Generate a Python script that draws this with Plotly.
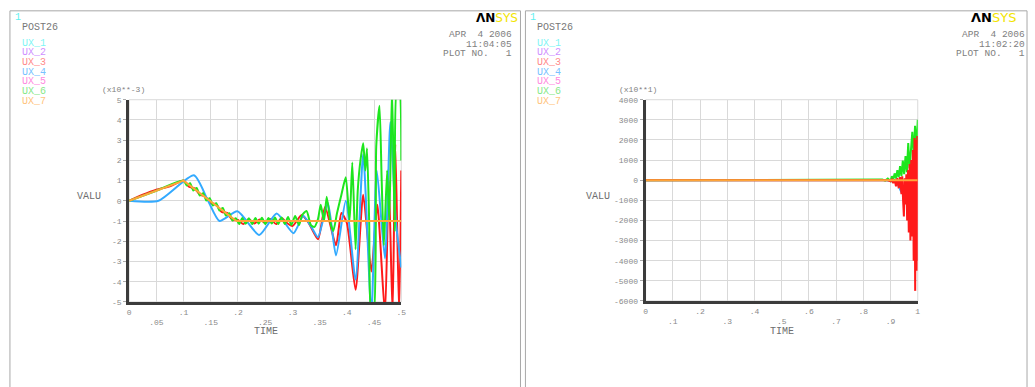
import plotly.graph_objects as go

W, H = 1035, 387

# ---------------- data ----------------
series_names = ["UX_1", "UX_2", "UX_3", "UX_4", "UX_5", "UX_6", "UX_7"]
label_colors = ["#7ff5f5", "#cf90ff", "#ff8a8a", "#77c2ff", "#ff8ae0", "#88e888", "#ffc47c"]

# Left chart: TIME 0..0.5, VALU in units of 1e-3
left_x_ticks = [0, .05, .1, .15, .2, .25, .3, .35, .4, .45, .5]
left_x_labels = ["0", ".05", ".1", ".15", ".2", ".25", ".3", ".35", ".4", ".45", ".5"]
left_y_ticks = [5, 4, 3, 2, 1, 0, -1, -2, -3, -4, -5]
left_y_labels = ["5", "4", "3", "2", "1", "0", "-1", "-2", "-3", "-4", "-5"]

l_ux3_t = [0, .025, .05, .075, .1, .11, .12, .13, .14, .15, .16, .17, .18, .19, .2, .21, .22,
           .23, .24, .25, .26, .27, .28, .29, .3, .317, .33, .347, .36, .38, .39, .4, .416,
           .43, .445, .456, .47, .477, .484, .489, .496, .5]
l_ux3_v = [0, .3, .55, .72, 1.0, .7, .62, .3, .22, -.12, -.18, -.55, -.6, -.95, -.95, -1.15, -.9,
           -1.12, -.92, -1.1, -.9, -1.15, -.85, -1.1, -1.25, -.7, -1.1, -1.9, -.3, -2.2, -.6, -1.1, -4.4,
           .3, -3.5, -.2, -5.6, 1.0, -5.6, 2.8, -5.6, 1.5]

l_ux4_t = [0, .054, .119, .145, .166, .199, .239, .271, .302, .32, .335, .347, .365, .38, .398,
           .416, .43, .445, .455, .47, .48, .49, .5]
l_ux4_v = [0, 0, 1.26, 0, -1.0, -.52, -1.69, -.63, -1.6, -.75, -1.3, -1.8, -.1, -2.7, 0.0,
           -3.9, 2.3, -5.6, 1.5, -2.85, 3.9, -1.0, -3.3]

l_ux6_t = [0, .05, .1, .106, .112, .118, .124, .13, .136, .142, .148, .154, .16, .166, .172, .178,
           .184, .19, .196, .202, .208, .214, .22, .226, .232, .238, .244, .25, .256, .262, .268,
           .274, .28, .286, .292, .298, .305, .312, .318, .326, .334, .34, .347, .352, .358, .363,
           .37, .375, .382, .39, .398, .405, .41, .416, .42, .425, .43, .434, .437, .441, .445,
           .449, .454, .46, .464, .468, .474, .478, .483, .488, .492, .496, .5]
l_ux6_v = [0, .5, 1.0, .76, .87, .51, .63, .26, .38, .01, .13, -.23, -.12, -.48, -.36, -.73,
           -.61, -.97, -.86, -1.15, -.85, -1.14, -.86, -1.15, -.85, -1.13, -.84, -1.15, -.85, -1.12, -.83,
           -1.15, -.82, -1.15, -.8, -1.2, -.75, -1.2, -.7, -.5, -1.2, -1.3, -.9, -.2, -1.0, .2,
           -1.1, -1.5, -.6, .3, 1.16, -1.0, 1.9, -2.4, .5, 2.0, 2.85, 1.5, 2.6, -1.0, -5.6,
           -5.6, 2.7, 4.7, 1.0, -2.2, 1.5, -1.0, 5.6, -1.5, 5.6, 5.6, 2.0]

l_ux7_t = [0, .1, .197, .5]
l_ux7_v = [0, 1.0, -1.0, -1.0]

# Right chart: TIME 0..1, VALU in units of 1e1
right_x_ticks = [0, .1, .2, .3, .4, .5, .6, .7, .8, .9, 1]
right_x_labels = ["0", ".1", ".2", ".3", ".4", ".5", ".6", ".7", ".8", ".9", "1"]
right_y_ticks = [4000, 3000, 2000, 1000, 0, -1000, -2000, -3000, -4000, -5000, -6000]
right_y_labels = ["4000", "3000", "2000", "1000", "0", "-1000", "-2000", "-3000", "-4000", "-5000", "-6000"]

r_ux3_t = [0, .89, .9, .905, .91, .915, .92, .925, .93, .935, .94, .943, .946, .949, .952, .955,
           .958, .961, .964, .967, .97, .973, .976, .979, .982, .985, .988, .9905, .993, .996, .998, 1.0]
r_ux3_v = [0, 0, -50, 30, -150, 50, -300, 100, -400, 150, -700, 200, -1000, -1800, 100, -1200,
           300, -2000, 500, -2600, 800, -3000, 1000, -2800, 1500, -4000, 2100, -5500, 2000, -4500, 2200, -4000]

r_ux4_t = [0, .88, .9, .92, .93, .94, .95, .96]
r_ux4_v = [0, 0, -40, -100, -300, -600, -400, -300]

r_ux6_t = [0, .85, .87, .88, .89, .9, .905, .91, .915, .92, .925, .93, .935, .94, .945, .95, .955,
           .96, .965, .97, .975, .98, .985, .99, .995, 1.0]
r_ux6_v = [0, 0, 30, -20, 80, -40, 200, 50, 340, 80, 500, 150, 700, 200, 970, 300, 1200,
           400, 1850, 600, 1500, 2400, 1200, 2700, 1500, 3000]

r_ux7_t = [0, 1]
r_ux7_v = [0, 0]

line_colors = {"UX_3": "#ff1a1a", "UX_4": "#33aaff", "UX_6": "#1ee61e", "UX_7": "#ffa53a"}

# ---------------- figure ----------------
fig = go.Figure()

def add(t, v, name, xa, ya, shape):
    fig.add_trace(go.Scatter(x=t, y=v, mode="lines", name=name, xaxis=xa, yaxis=ya,
                             line=dict(color=line_colors[name], width=2, shape=shape, smoothing=0.6),
                             showlegend=False, hoverinfo="skip"))

add(l_ux3_t, l_ux3_v, "UX_3", "x", "y", "spline")
add(l_ux4_t, l_ux4_v, "UX_4", "x", "y", "spline")
add(l_ux6_t, l_ux6_v, "UX_6", "x", "y", "spline")
add(l_ux7_t, l_ux7_v, "UX_7", "x", "y", "linear")
add(r_ux4_t, r_ux4_v, "UX_4", "x2", "y2", "linear")
add(r_ux6_t, r_ux6_v, "UX_6", "x2", "y2", "linear")
add(r_ux3_t, r_ux3_v, "UX_3", "x2", "y2", "linear")
add(r_ux7_t, r_ux7_v, "UX_7", "x2", "y2", "linear")

def px(x):
    return x / W

def py(y):
    return 1 - y / H

def stagger(labels):
    return [l if i % 2 == 0 else "<br>" + l for i, l in enumerate(labels)]

tickfont = dict(family="Liberation Mono", size=8, color="#8a8a8a")
grid = "#d9d9d9"
axcol = "#3c3c3c"

def xaxis(dom, rng, vals, labels, anchor):
    return dict(domain=dom, range=rng, tickmode="array", tickvals=vals, ticktext=stagger(labels),
                showgrid=True, gridcolor=grid, gridwidth=1, zeroline=False, showline=True,
                linecolor=axcol, linewidth=3, ticks="", tickfont=tickfont, anchor=anchor,
                fixedrange=True)

def yaxis(dom, rng, vals, labels, anchor):
    return dict(domain=dom, range=rng, tickmode="array", tickvals=vals, ticktext=labels,
                showgrid=True, gridcolor=grid, gridwidth=1, zeroline=False, showline=True,
                linecolor=axcol, linewidth=3, ticks="outside", ticklen=3, tickcolor="#aaaaaa",
                tickfont=tickfont, anchor=anchor, fixedrange=True)

fig.update_layout(
    width=W, height=H, margin=dict(l=0, r=0, t=0, b=0),
    paper_bgcolor="white", plot_bgcolor="white",
    xaxis=xaxis([px(128), px(402)], [0, 0.5], left_x_ticks, left_x_labels, "y"),
    yaxis=yaxis([py(305), py(98)], [-5, 5], left_y_ticks, left_y_labels, "x"),
    xaxis2=xaxis([px(648), px(922)], [0, 1], right_x_ticks, right_x_labels, "y2"),
    yaxis2=yaxis([py(304), py(98)], [-6000, 4000], right_y_ticks, right_y_labels, "x2"),
)

shapes = []
# panel borders
for x0, x1 in [(8, 522), (527, 1032)]:
    shapes.append(dict(type="rect", xref="paper", yref="paper", x0=px(x0), x1=px(x1),
                       y0=py(400), y1=py(7), line=dict(color="#a8a8a8", width=1), layer="below"))
# light frame for top/right of plot areas
for xr, yr in [("x domain", "y domain"), ("x2 domain", "y2 domain")]:
    shapes.append(dict(type="rect", xref=xr, yref=yr, x0=0, x1=1, y0=0, y1=1,
                       line=dict(color=grid, width=1), layer="below"))
fig.update_layout(shapes=shapes)

mono = "Liberation Mono"
ann = []

def text(x, y, s, size=10, color="#6a6a6a", xanchor="left", family=mono):
    ann.append(dict(x=px(x), y=py(y), xref="paper", yref="paper", text=s, showarrow=False,
                    xanchor=xanchor, yanchor="middle", borderpad=0,
                    font=dict(family=family, size=size, color=color)))

panels = [
    dict(x0=0, date="11:04:05", exp="(x10**-3)", expx=122, logo_x=521, logo_anchor="right",
         logo_size=12, info_x=514, valu_x=88, time_x=266),
    dict(x0=519, date="11:02:20", exp="(x10**1)", expx=640, logo_x=975, logo_anchor="left",
         logo_size=13, info_x=1031, valu_x=600, time_x=785),
]
for p in panels:
    o = p["x0"]
    text(o + 12, 14, "1", size=10, color="#5ff0f0")
    text(o + 19, 24, "POST26", size=10, color="#777777")
    for i, (n, c) in enumerate(zip(series_names, label_colors)):
        text(o + 19, 40 + i * 9.9, n, size=10, color=c)
    text(p["expx"], 88, p["exp"], size=8, color="#808080", xanchor="center")
    text(p["info_x"], 31, "APR  4 2006", size=9.5, color="#808080", xanchor="right")
    text(p["info_x"], 41, p["date"], size=9.5, color="#808080", xanchor="right")
    text(p["info_x"], 51, "PLOT NO.   1", size=9.5, color="#808080", xanchor="right")
    text(p["valu_x"], 197, "VALU", size=10, color="#6e6e6e", xanchor="center")
    text(p["time_x"], 335, "TIME", size=10, color="#6e6e6e", xanchor="center")
    text(p["logo_x"], 14, "<b>ΛN</b><span style='color:#f2e400'>SYS</span>", size=p["logo_size"],
         color="#000000", xanchor=p["logo_anchor"], family="DejaVu Sans")

fig.update_layout(annotations=ann)

fig.write_html("out.html")
